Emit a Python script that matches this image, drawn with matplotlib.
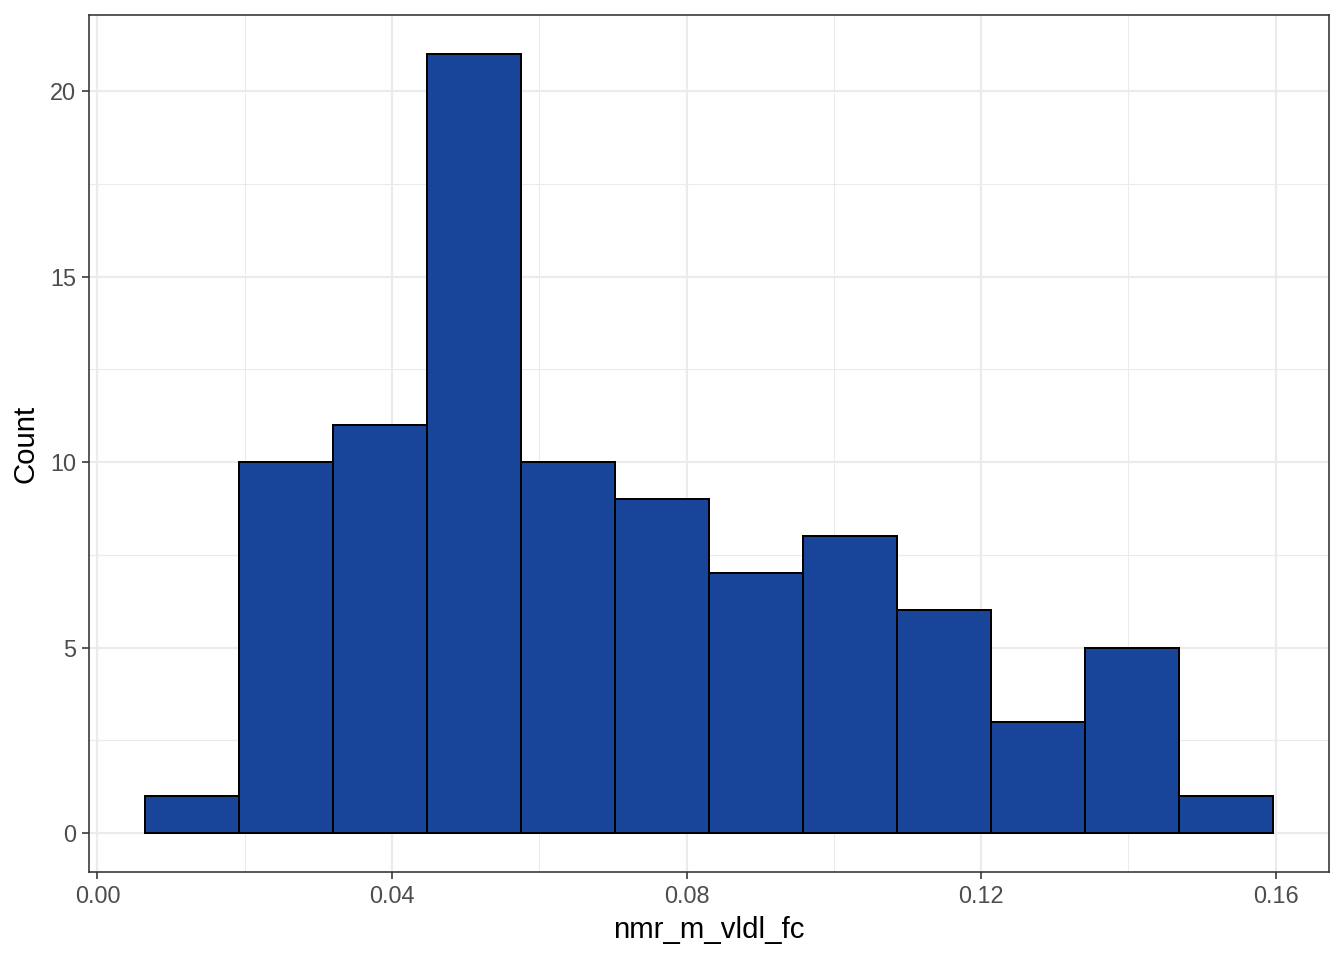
import numpy as np
import matplotlib
matplotlib.use("Agg")
import matplotlib.pyplot as plt

# histogram bins
bin_start = 0.00651
bin_width = 0.012756
counts = [1, 10, 11, 21, 10, 9, 7, 8, 6, 3, 5, 1]
xticks = [0.00, 0.04, 0.08, 0.12, 0.16]
xticklabels = ["0.00", "0.04", "0.08", "0.12", "0.16"]
yticks = [0, 5, 10, 15, 20]

plt.rcParams['font.family'] = ['Liberation Sans', 'DejaVu Sans']

fig = plt.figure(figsize=(7, 5), dpi=192)
ax = fig.add_axes([89/1344, 1-872/960, (1329-89)/1344, (872-15)/960])

edges = bin_start + bin_width*np.arange(len(counts)+1)
ax.bar(edges[:-1], counts, width=bin_width, align='edge',
       color='#18449A', edgecolor='black', linewidth=0.75, zorder=3)

lo, hi = edges[0], edges[-1]
pad = 0.05*(hi-lo)
ax.set_xlim(lo-pad, hi+pad)
ax.set_ylim(-0.05*21, 21*1.05)

ax.set_xticks(xticks)
ax.set_xticklabels(xticklabels)
ax.set_yticks(yticks)
ax.set_xticks([0.02, 0.06, 0.10, 0.14], minor=True)
ax.set_yticks([2.5, 7.5, 12.5, 17.5], minor=True)
ax.grid(which='major', color='#EBEBEB', linewidth=0.8, zorder=0)
ax.grid(which='minor', color='#EBEBEB', linewidth=0.4, zorder=0)
ax.set_axisbelow(True)

ax.tick_params(which='major', length=2.75, width=0.6, color='#333333',
               labelsize=8.8, labelcolor='#4D4D4D', pad=2.2)
ax.tick_params(which='minor', length=0)
for s in ax.spines.values():
    s.set_color('#333333')
    s.set_linewidth(0.6)

ax.set_xlabel('nmr_m_vldl_fc', fontsize=11, labelpad=3)
ax.set_ylabel('Count', fontsize=11, labelpad=4)

fig.savefig('out.png', dpi=192)
